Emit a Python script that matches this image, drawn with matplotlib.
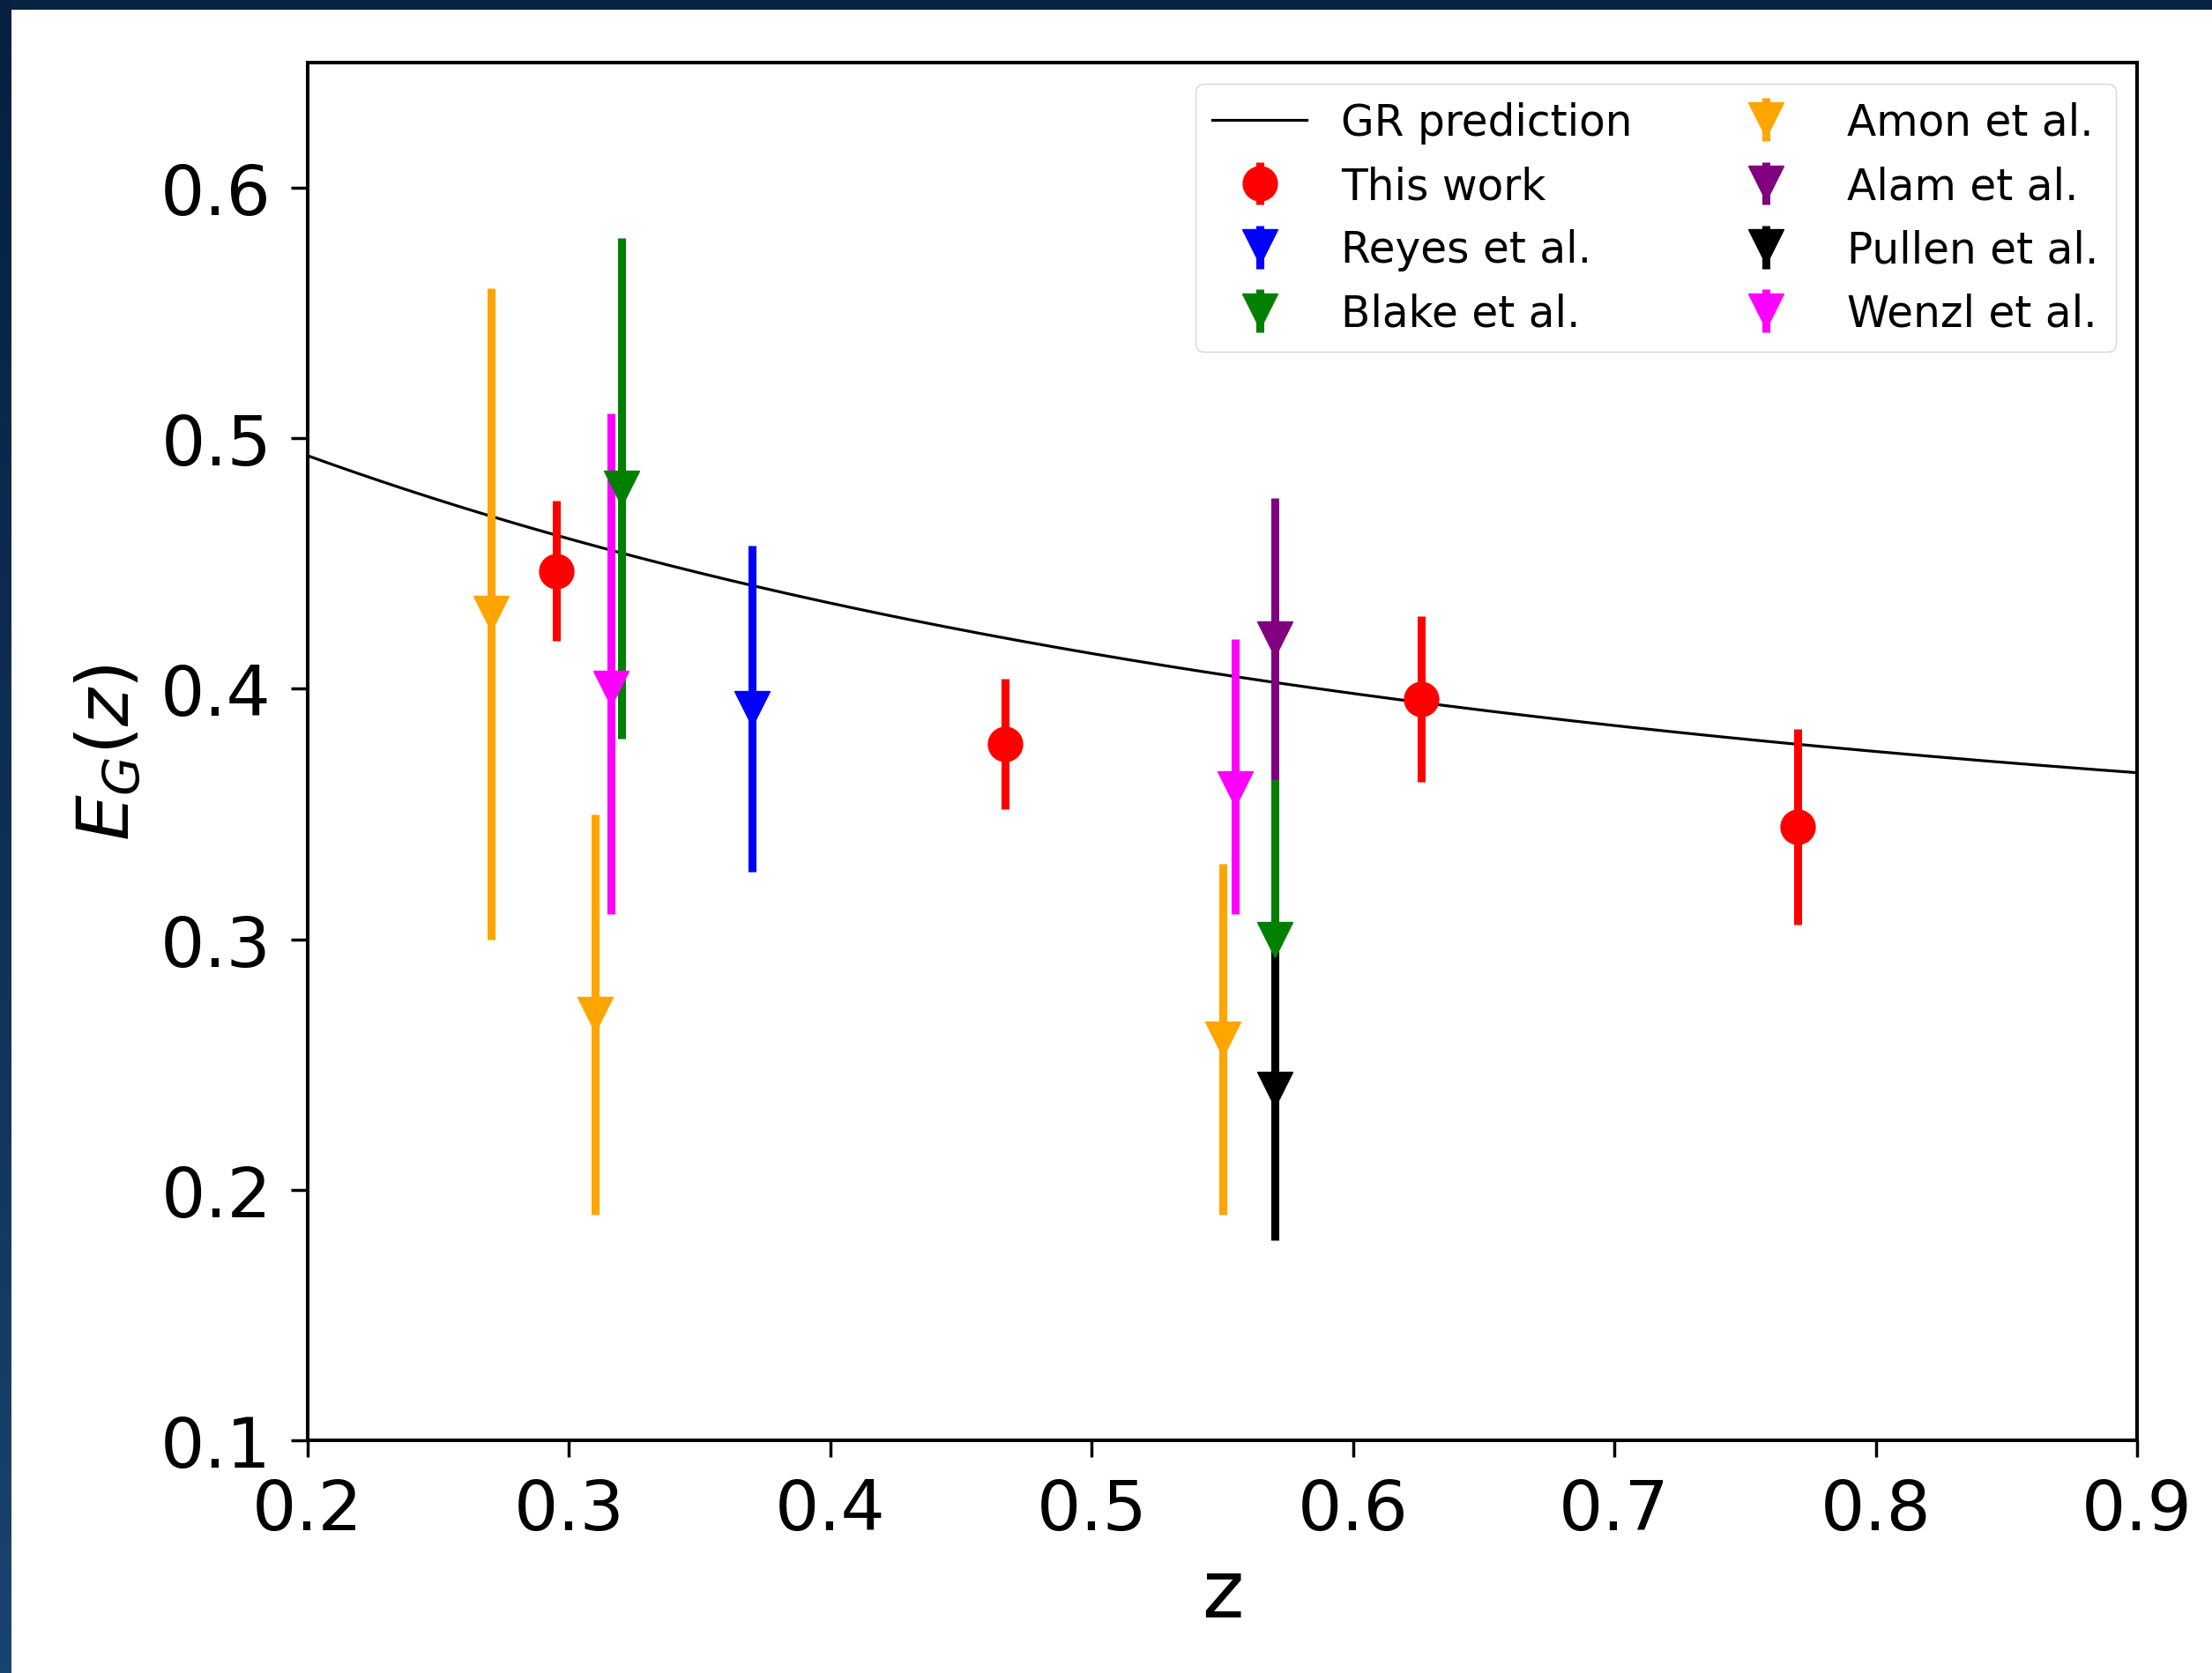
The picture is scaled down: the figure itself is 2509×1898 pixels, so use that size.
import matplotlib
matplotlib.use("Agg")
import matplotlib.pyplot as plt
import numpy as np
from matplotlib.patches import Rectangle
from matplotlib.colors import LinearSegmentedColormap

# GR prediction parameters
omega_m0 = 0.315
gamma = 0.55

# This work
z_this = [0.295, 0.467, 0.626, 0.770]
eg_this = [0.447, 0.378, 0.396, 0.345]
err_this = [0.028, 0.026, 0.033, 0.039]

# literature measurements (z, E_G, lower err, upper err)
z_reyes = [0.370]
eg_reyes = [0.392]
lo_reyes = [0.065]
hi_reyes = [0.065]

z_blake = [0.320, 0.570]
eg_blake = [0.48, 0.30]
lo_blake = [0.10, 0.07]
hi_blake = [0.10, 0.07]

z_amon = [0.270, 0.310, 0.550]
eg_amon = [0.43, 0.27, 0.26]
lo_amon = [0.13, 0.08, 0.07]
hi_amon = [0.13, 0.08, 0.07]

z_alam = [0.570]
eg_alam = [0.42]
lo_alam = [0.056]
hi_alam = [0.056]

z_pullen = [0.570]
eg_pullen = [0.24]
lo_pullen = [0.06]
hi_pullen = [0.06]

z_wenzl = [0.316, 0.555]
eg_wenzl = [0.40, 0.36]
lo_wenzl = [0.09, 0.05]
hi_wenzl = [0.11, 0.06]

W, H = 2509, 1899
fig = plt.figure(figsize=(W / 100, H / 100), dpi=100)
fig.patch.set_facecolor("white")

# dark screenshot border (top and left)
fig.add_artist(Rectangle((0, 1 - 12 / H), 1, 12 / H, transform=fig.transFigure,
                         facecolor="#0a2342", edgecolor="none", zorder=0))
bax = fig.add_axes([0, 0, 13 / W, 1])
grad = np.linspace(0, 1, 256)[:, None]
cmap = LinearSegmentedColormap.from_list("edge", ["#06203f", "#0f3055", "#1a4470"])
bax.imshow(grad, aspect="auto", cmap=cmap, extent=[0, 1, 0, 1], origin="upper")
bax.axis("off")

ax = fig.add_axes([349 / W, 1 - 1635 / H, 2075 / W, 1563 / H])

zz = np.linspace(0.2, 0.9, 300)
om = omega_m0 * (1 + zz) ** 3 / (omega_m0 * (1 + zz) ** 3 + 1 - omega_m0)
eg_gr = omega_m0 / om ** gamma
ax.plot(zz, eg_gr, color="black", lw=2.3, label="GR prediction")

ms_o = 28
ms_v = 29
elw = 6.5
ax.errorbar(z_this, eg_this, yerr=err_this, fmt="o", color="red", ms=ms_o,
            elinewidth=elw, label="This work")
ax.errorbar(z_reyes, eg_reyes, yerr=[lo_reyes, hi_reyes], fmt="v", color="blue",
            ms=ms_v, elinewidth=elw, label="Reyes et al.")
ax.errorbar(z_blake, eg_blake, yerr=[lo_blake, hi_blake], fmt="v", color="green",
            ms=ms_v, elinewidth=elw, label="Blake et al.")
ax.errorbar(z_amon, eg_amon, yerr=[lo_amon, hi_amon], fmt="v", color="orange",
            ms=ms_v, elinewidth=elw, label="Amon et al.")
ax.errorbar(z_alam, eg_alam, yerr=[lo_alam, hi_alam], fmt="v", color="purple",
            ms=ms_v, elinewidth=elw, label="Alam et al.")
ax.errorbar(z_pullen, eg_pullen, yerr=[lo_pullen, hi_pullen], fmt="v", color="black",
            ms=ms_v, elinewidth=elw, label="Pullen et al.")
ax.errorbar(z_wenzl, eg_wenzl, yerr=[lo_wenzl, hi_wenzl], fmt="v", color="magenta",
            ms=ms_v, elinewidth=elw, label="Wenzl et al.")

ax.set_xlim(0.2, 0.9)
ax.set_ylim(0.1, 0.65)
ax.set_xticks([0.2, 0.3, 0.4, 0.5, 0.6, 0.7, 0.8, 0.9])
ax.set_yticks([0.1, 0.2, 0.3, 0.4, 0.5, 0.6])
ax.tick_params(labelsize=57, length=13.5, width=2.5, pad=16)
for s in ax.spines.values():
    s.set_linewidth(2.9)

ax.set_xlabel("z", fontsize=65, labelpad=10)
ax.set_ylabel(r"$E_G(z)$", fontsize=59, labelpad=14)

ax.legend(ncol=2, loc="upper right", fontsize=35, handlelength=2.2,
          borderaxespad=0.5, edgecolor="0.8", framealpha=0.8)

fig.savefig("out.png", dpi=100)
